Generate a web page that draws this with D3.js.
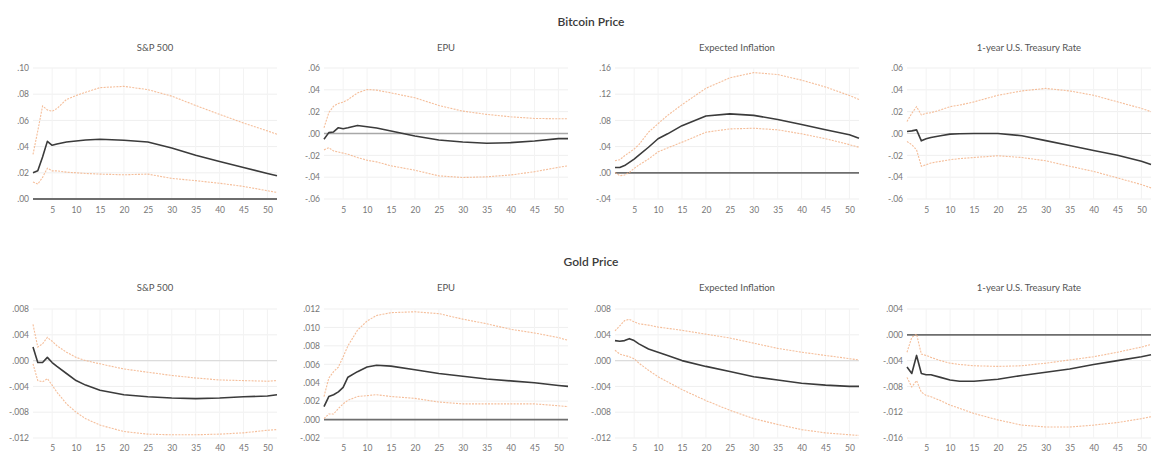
<!DOCTYPE html>
<html>
<head>
<meta charset="utf-8">
<script src="https://cdn.jsdelivr.net/npm/d3@7"></script>
<style>
  html, body { margin: 0; padding: 0; background: #fff; }
  svg { display: block; font-family: Lato, "Open Sans", sans-serif; }
</style>
</head>
<body>
<svg id="chart" width="1155" height="454"></svg>
<script>
// Impulse responses over 52 weekly horizons with upper / lower bands
const periods = [1, 2, 3, 4, 5, 6, 8, 10, 12, 15, 20, 25, 30, 35, 40, 45, 50, 52];
const xTicks = [5, 10, 15, 20, 25, 30, 35, 40, 45, 50];
const rowTitles = ["Bitcoin Price", "Gold Price"];
const panelTitles = ["S&P 500", "EPU", "Expected Inflation", "1-year U.S. Treasury Rate"];

// Bitcoin price responses
const btcSp500 = [.020, .0215, .032, .044, .041, .042, .0435, .0443, .045, .0456, .0448, .0435, .039, .0334, .0286, .024, .0195, .0177];
const btcSp500Up = [.034, .052, .071, .068, .067, .069, .076, .079, .0815, .085, .086, .0835, .0785, .0714, .0646, .058, .052, .0494];
const btcSp500Lo = [.013, .0114, .0165, .0235, .0215, .0215, .0205, .020, .0195, .019, .0185, .019, .0157, .014, .012, .0096, .0063, .005];

const btcEpu = [-.0053, .0008, .0014, .0053, .0044, .0053, .0074, .0062, .005, .0023, -.0023, -.0059, -.0078, -.009, -.0084, -.0068, -.0047, -.0047];
const btcEpuUp = [.0053, .019, .025, .0275, .0287, .031, .0372, .0403, .0397, .0372, .0327, .0257, .0205, .0175, .0153, .0138, .0135, .0135];
const btcEpuLo = [-.015, -.013, -.016, -.017, -.018, -.019, -.022, -.0245, -.026, -.0296, -.0336, -.0388, -.0403, -.0397, -.038, -.035, -.031, -.0296];

const btcInfl = [.008, .008, .011, .016, .021, .027, .039, .052, .0595, .072, .0867, .090, .0877, .0815, .0738, .0656, .058, .0528];
const btcInflUp = [.0185, .020, .026, .031, .0364, .043, .062, .075, .0877, .104, .129, .145, .153, .150, .1415, .131, .118, .112];
const btcInflLo = [.0005, -.0045, -.0035, .0005, .0067, .012, .021, .032, .038, .0467, .062, .067, .068, .0656, .0595, .052, .043, .039];

const btcRate = [.0018, .0024, .0033, -.0067, -.0049, -.0036, -.0021, -.0006, -.0002, 0, 0, -.002, -.0065, -.011, -.0155, -.020, -.0255, -.0285];
const btcRateUp = [.011, .0185, .0246, .017, .0185, .019, .0216, .0246, .026, .029, .035, .039, .0413, .039, .035, .029, .023, .020];
const btcRateLo = [-.0073, -.0103, -.015, -.030, -.0286, -.027, -.0255, -.024, -.023, -.022, -.0204, -.022, -.025, -.030, -.0347, -.0407, -.0468, -.0498];

// Gold price responses
const goldSp500 = [.0021, -.0003, -.0003, .0005, -.0003, -.0009, -.002, -.0031, -.0038, -.0046, -.0053, -.0056, -.0058, -.0059, -.0058, -.0056, -.0055, -.0053];
const goldSp500Up = [.0056, .0021, .0026, .0036, .003, .0023, .0013, .0005, 0, -.0005, -.0013, -.0018, -.0023, -.0027, -.003, -.0031, -.0032, -.0031];
const goldSp500Lo = [-.0005, -.0031, -.0033, -.0028, -.0038, -.0049, -.0067, -.008, -.009, -.010, -.011, -.0114, -.0115, -.0115, -.0114, -.0112, -.0108, -.0107];

const goldEpu = [.0014, .0025, .0027, .003, .0035, .0046, .0052, .0057, .0059, .0058, .0054, .005, .0047, .0044, .0042, .004, .0037, .0036];
const goldEpuUp = [.0025, .0045, .0052, .0057, .0068, .008, .0097, .0107, .0113, .0116, .0117, .0115, .0109, .0104, .0098, .0094, .0089, .0086];
const goldEpuLo = [.0001, .0006, .0006, .0012, .0017, .0021, .0025, .0026, .0027, .0025, .0023, .0019, .0017, .0017, .0017, .0017, .0015, .0014];

const goldInfl = [.0031, .003, .0031, .0034, .0031, .0026, .0018, .0013, .0008, 0, -.0009, -.0017, -.0025, -.003, -.0035, -.0038, -.004, -.004];
const goldInflUp = [.0046, .0054, .0062, .0064, .006, .0057, .0055, .0052, .005, .0047, .0041, .0035, .0027, .0019, .0013, .0008, .0003, .0001];
const goldInflLo = [.0016, .001, .0008, .0006, .0003, -.0004, -.0015, -.0025, -.0033, -.0045, -.0062, -.0077, -.009, -.0099, -.0107, -.0112, -.0115, -.0116];

const goldRate = [-.005, -.006, -.0032, -.006, -.0062, -.0062, -.0066, -.007, -.0072, -.0072, -.0069, -.0063, -.0058, -.0053, -.0046, -.004, -.0034, -.0031];
const goldRateUp = [-.0027, -.0004, .0001, -.003, -.0032, -.0035, -.004, -.0044, -.0046, -.0048, -.0049, -.0048, -.0044, -.0039, -.0034, -.0027, -.0019, -.0015];
const goldRateLo = [-.0066, -.0081, -.0071, -.0089, -.0094, -.0096, -.0102, -.0109, -.0114, -.0122, -.0132, -.014, -.0143, -.0143, -.014, -.0136, -.013, -.0127];

// Value axis ticks for each panel
const btcSp500Ticks = [.00, .02, .04, .06, .08, .10];
const btcEpuTicks = [-.06, -.04, -.02, .00, .02, .04, .06];
const btcInflTicks = [-.04, .00, .04, .08, .12, .16];
const btcRateTicks = [-.06, -.04, -.02, .00, .02, .04, .06];
const goldSp500Ticks = [-.012, -.008, -.004, .000, .004, .008];
const goldEpuTicks = [-.002, .000, .002, .004, .006, .008, .010, .012];
const goldInflTicks = [-.012, -.008, -.004, .000, .004, .008];
const goldRateTicks = [-.016, -.012, -.008, -.004, .000, .004];

const panels = [
  { row: 0, col: 0, mid: btcSp500, up: btcSp500Up, lo: btcSp500Lo, ticks: btcSp500Ticks, dec: 2, zero: "dark" },
  { row: 0, col: 1, mid: btcEpu, up: btcEpuUp, lo: btcEpuLo, ticks: btcEpuTicks, dec: 2, zero: "mid" },
  { row: 0, col: 2, mid: btcInfl, up: btcInflUp, lo: btcInflLo, ticks: btcInflTicks, dec: 2, zero: "dark" },
  { row: 0, col: 3, mid: btcRate, up: btcRateUp, lo: btcRateLo, ticks: btcRateTicks, dec: 2, zero: "light" },
  { row: 1, col: 0, mid: goldSp500, up: goldSp500Up, lo: goldSp500Lo, ticks: goldSp500Ticks, dec: 3, zero: "light" },
  { row: 1, col: 1, mid: goldEpu, up: goldEpuUp, lo: goldEpuLo, ticks: goldEpuTicks, dec: 3, zero: "dark" },
  { row: 1, col: 2, mid: goldInfl, up: goldInflUp, lo: goldInflLo, ticks: goldInflTicks, dec: 3, zero: "light" },
  { row: 1, col: 3, mid: goldRate, up: goldRateUp, lo: goldRateLo, ticks: goldRateTicks, dec: 3, zero: "dark" }
];

const colLeft = [33, 324, 615, 907];
const plotW = 244;
const rows = [
  { title: 22, sub: 48, top: 68, bottom: 199, xLab: 210 },
  { title: 262, sub: 288, top: 309, bottom: 438, xLab: 448 }
];
const zeroStyle = {
  dark: { stroke: "#6e6e6e", width: 1.8 },
  mid: { stroke: "#a8a8a8", width: 1.3 },
  light: { stroke: "#dcdcdc", width: 1.1 }
};

const svg = d3.select("#chart");

rows.forEach((r, i) => {
  svg.append("text")
    .attr("x", 591).attr("y", r.title).attr("dy", "0.35em")
    .attr("text-anchor", "middle")
    .attr("font-size", 12).attr("font-weight", 600).attr("fill", "#3a3a3a")
    .text(rowTitles[i]);
});

const fmt = dec => v => {
  const s = d3.format("." + dec + "f")(Math.abs(v)).replace(/^0/, "");
  return (v < 0 ? "-" : "") + s;
};

panels.forEach(p => {
  const r = rows[p.row];
  const left = colLeft[p.col];
  const x = d3.scaleLinear().domain([1, 52]).range([left, left + plotW]);
  const y = d3.scaleLinear().domain(d3.extent(p.ticks)).range([r.bottom, r.top]);
  const g = svg.append("g");

  g.append("text")
    .attr("x", left + plotW / 2).attr("y", r.sub).attr("dy", "0.35em")
    .attr("text-anchor", "middle")
    .attr("font-size", 9.5).attr("fill", "#555")
    .text(panelTitles[p.col]);

  // faint grid
  g.selectAll(".hg").data(p.ticks).join("line")
    .attr("x1", left).attr("x2", left + plotW)
    .attr("y1", d => y(d)).attr("y2", d => y(d))
    .attr("stroke", "#efefef").attr("stroke-width", 1);
  g.selectAll(".vg").data(xTicks).join("line")
    .attr("x1", d => x(d)).attr("x2", d => x(d))
    .attr("y1", r.top).attr("y2", r.bottom)
    .attr("stroke", "#f3f3f3").attr("stroke-width", 1);

  // value axis
  const ay = g.append("g").attr("transform", `translate(${left},0)`)
    .call(d3.axisLeft(y).tickValues(p.ticks).tickFormat(fmt(p.dec)).tickSize(0).tickPadding(4));
  ay.select(".domain").remove();
  ay.selectAll("text").attr("font-size", 8.5).attr("fill", "#777").attr("font-family", "Lato, sans-serif");

  // horizon axis
  const ax = g.append("g").attr("transform", `translate(0,${r.xLab})`)
    .call(d3.axisBottom(x).tickValues(xTicks).tickFormat(d3.format("d")).tickSize(0).tickPadding(0));
  ax.select(".domain").remove();
  ax.selectAll("text").attr("font-size", 8.5).attr("fill", "#777").attr("dy", "0.35em").attr("font-family", "Lato, sans-serif");

  // zero line
  const zs = zeroStyle[p.zero];
  g.append("line")
    .attr("x1", left).attr("x2", left + plotW)
    .attr("y1", y(0)).attr("y2", y(0))
    .attr("stroke", zs.stroke).attr("stroke-width", zs.width);

  const line = d3.line().x((d, i) => x(periods[i])).y(d => y(d));

  [p.up, p.lo].forEach(band => {
    g.append("path").datum(band)
      .attr("d", line).attr("fill", "none")
      .attr("stroke", "#f3b388").attr("stroke-width", 1.1)
      .attr("stroke-dasharray", "2,1.2").attr("opacity", 0.85);
  });

  g.append("path").datum(p.mid)
    .attr("d", line).attr("fill", "none")
    .attr("stroke", "#3b3b3b").attr("stroke-width", 1.6)
    .attr("stroke-linejoin", "round");
});
</script>
</body>
</html>
